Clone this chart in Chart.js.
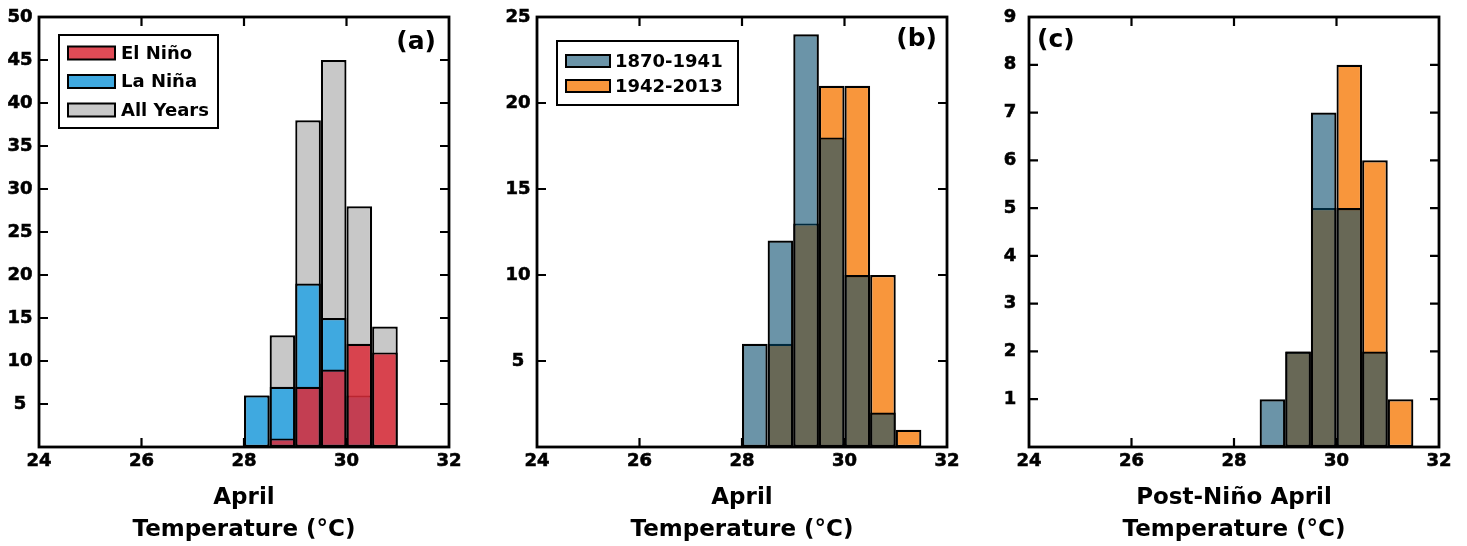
<!DOCTYPE html>
<html>
<head>
<meta charset="utf-8">
<script src="https://cdn.jsdelivr.net/npm/chart.js@4"></script>
<style>
  body { margin: 0; background: #fff; }
  canvas { position: absolute; top: 0; }
</style>
</head>
<body>
<canvas id="panelA" width="489" height="546" style="left:0px"></canvas>
<canvas id="panelB" width="489" height="546" style="left:498px"></canvas>
<canvas id="panelC" width="489" height="546" style="left:990px"></canvas>
<script>
// bin centres (0.5 degC bins)
const binCentres = [28.25, 28.75, 29.25, 29.75, 30.25, 30.75, 31.25];
const xTicks = [24, 26, 28, 30, 32];

// panel (a) counts
const elNino = [0, 1, 7, 9, 12, 11, 0];
const laNina = [6, 7, 19, 15, 6, 0, 0];
const allYears = [6, 13, 38, 45, 28, 14, 0];

// panel (b) counts
const early = [6, 12, 24, 18, 10, 2, 0];
const late = [0, 6, 13, 21, 21, 10, 1];

// panel (c) counts, post-Nino years
const earlyPost = [0, 1, 2, 7, 5, 2, 0];
const latePost = [0, 0, 2, 5, 8, 6, 1];

const FONT = '"DejaVu Sans"';

function toPoints(counts) {
    return binCentres.map((x, i) => ({x: x, y: counts[i]})).filter(p => p.y > 0);
}

function bars(label, counts, colour) {
    return {
        label: label,
        data: toPoints(counts),
        backgroundColor: colour,
        borderColor: '#000',
        borderWidth: 2.2,
        borderSkipped: false,
        inflateAmount: 0,
        barPercentage: 1,
        categoryPercentage: 1
    };
}

// box round the axes, inward ticks, panel letter and the legend
const framePlugin = {
    id: 'frame',
    afterDatasetsDraw(chart, args, opts) {
        const ctx = chart.ctx;
        const a = chart.chartArea;
        const x = chart.scales.x, y = chart.scales.y;
        const len = 9;
        ctx.save();
        ctx.strokeStyle = '#000';
        ctx.lineWidth = 2.2;
        ctx.beginPath();
        x.ticks.forEach(t => {
            if (t.value <= x.min || t.value >= x.max) return;
            const px = x.getPixelForValue(t.value);
            ctx.moveTo(px, a.bottom); ctx.lineTo(px, a.bottom - len);
            ctx.moveTo(px, a.top); ctx.lineTo(px, a.top + len);
        });
        y.ticks.forEach(t => {
            if (t.value <= y.min || t.value >= y.max) return;
            const py = y.getPixelForValue(t.value);
            ctx.moveTo(a.left, py); ctx.lineTo(a.left + len, py);
            ctx.moveTo(a.right, py); ctx.lineTo(a.right - len, py);
        });
        ctx.stroke();
        ctx.lineWidth = 2.8;
        ctx.strokeRect(a.left, a.top, a.right - a.left, a.bottom - a.top);

        // panel letter
        ctx.fillStyle = '#000';
        ctx.font = 'bold 25px ' + FONT;
        ctx.textBaseline = 'middle';
        if (opts.tagSide === 'right') {
            ctx.textAlign = 'right';
            ctx.fillText(opts.tag, a.right - opts.tagInset, a.top + opts.tagY);
        } else {
            ctx.textAlign = 'left';
            ctx.fillText(opts.tag, a.left + opts.tagInset, a.top + opts.tagY);
        }

        // legend box
        const lg = opts.legend;
        if (lg) {
            const bx = a.left + lg.x, by = a.top + lg.y;
            ctx.fillStyle = '#fff';
            ctx.fillRect(bx, by, lg.w, lg.h);
            ctx.lineWidth = 2;
            ctx.strokeRect(bx, by, lg.w, lg.h);
            ctx.font = 'bold 18px ' + FONT;
            ctx.textAlign = 'left';
            ctx.textBaseline = 'middle';
            chart.data.datasets.forEach((ds, i) => {
                const cy = by + lg.first + i * lg.gap;
                ctx.fillStyle = '#fff';
                ctx.fillRect(bx + lg.swX, cy - lg.swH / 2, lg.swW, lg.swH);
                ctx.fillStyle = ds.backgroundColor;
                ctx.fillRect(bx + lg.swX, cy - lg.swH / 2, lg.swW, lg.swH);
                ctx.lineWidth = 2;
                ctx.strokeRect(bx + lg.swX, cy - lg.swH / 2, lg.swW, lg.swH);
                ctx.fillStyle = '#000';
                ctx.fillText(ds.label, bx + lg.textX, cy + 1);
            });
        }
        ctx.restore();
    }
};

function makePanel(id, datasets, yMax, yStep, yPad, titleLines, frameOpts) {
    return new Chart(document.getElementById(id), {
        type: 'bar',
        data: {datasets: datasets},
        plugins: [framePlugin],
        options: {
            responsive: false,
            animation: false,
            grouped: false,
            layout: {padding: {top: 17, right: 40, left: 0, bottom: 0}},
            plugins: {
                legend: {display: false},
                tooltip: {enabled: false},
                frame: frameOpts
            },
            scales: {
                x: {
                    type: 'linear',
                    min: 24,
                    max: 32,
                    offset: false,
                    afterBuildTicks: s => { s.ticks = xTicks.map(v => ({value: v})); },
                    afterFit: s => { s.height = 99; },
                    grid: {display: false},
                    border: {display: false},
                    ticks: {
                        color: '#000',
                        padding: -4,
                        maxRotation: 0,
                        textStrokeColor: '#000',
                        textStrokeWidth: 0.6,
                        font: {family: FONT, size: 18, weight: 'bold'}
                    },
                    title: {
                        display: true,
                        text: titleLines,
                        color: '#000',
                        padding: {top: 0, bottom: 0},
                        font: {family: FONT, size: 23, weight: 'bold', lineHeight: 1.4}
                    }
                },
                y: {
                    min: 0,
                    max: yMax,
                    afterFit: s => { s.width = 39; s.paddingTop = 0; s.paddingBottom = 0; },
                    grid: {display: false},
                    border: {display: false},
                    ticks: {
                        stepSize: yStep,
                        color: '#000',
                        padding: yPad,
                        crossAlign: 'center',
                        textStrokeColor: '#000',
                        textStrokeWidth: 0.6,
                        font: {family: FONT, size: 18, weight: 'bold'},
                        callback: v => (v === 0 ? '' : v)
                    }
                }
            }
        }
    });
}

makePanel('panelA', [
    bars('El Niño', elNino, 'rgba(218, 44, 56, 0.85)'),
    bars('La Niña', laNina, '#3fa9e0'),
    bars('All Years', allYears, '#c8c8c8')
], 50, 5, -1.5, ['April', 'Temperature (°C)'], {
    tag: '(a)', tagSide: 'right', tagInset: 13, tagY: 25,
    legend: {x: 20, y: 18, w: 159, h: 93, first: 18, gap: 28.5, swX: 9, swW: 47, swH: 13, textX: 62}
});

makePanel('panelB', [
    bars('1870-1941', early, 'rgba(0, 71, 105, 0.58)'),
    bars('1942-2013', late, '#f8963c')
], 25, 5, -1.5, ['April', 'Temperature (°C)'], {
    tag: '(b)', tagSide: 'right', tagInset: 10, tagY: 22,
    legend: {x: 20, y: 24, w: 181, h: 64, first: 20, gap: 25, swX: 9, swW: 44, swH: 12, textX: 58}
});

makePanel('panelC', [
    bars('1870-1941', earlyPost, 'rgba(0, 71, 105, 0.58)'),
    bars('1942-2013', latePost, '#f8963c')
], 9, 1, 4.7, ['Post-Niño April', 'Temperature (°C)'], {
    tag: '(c)', tagSide: 'left', tagInset: 8, tagY: 23,
    legend: null
});
</script>
</body>
</html>
